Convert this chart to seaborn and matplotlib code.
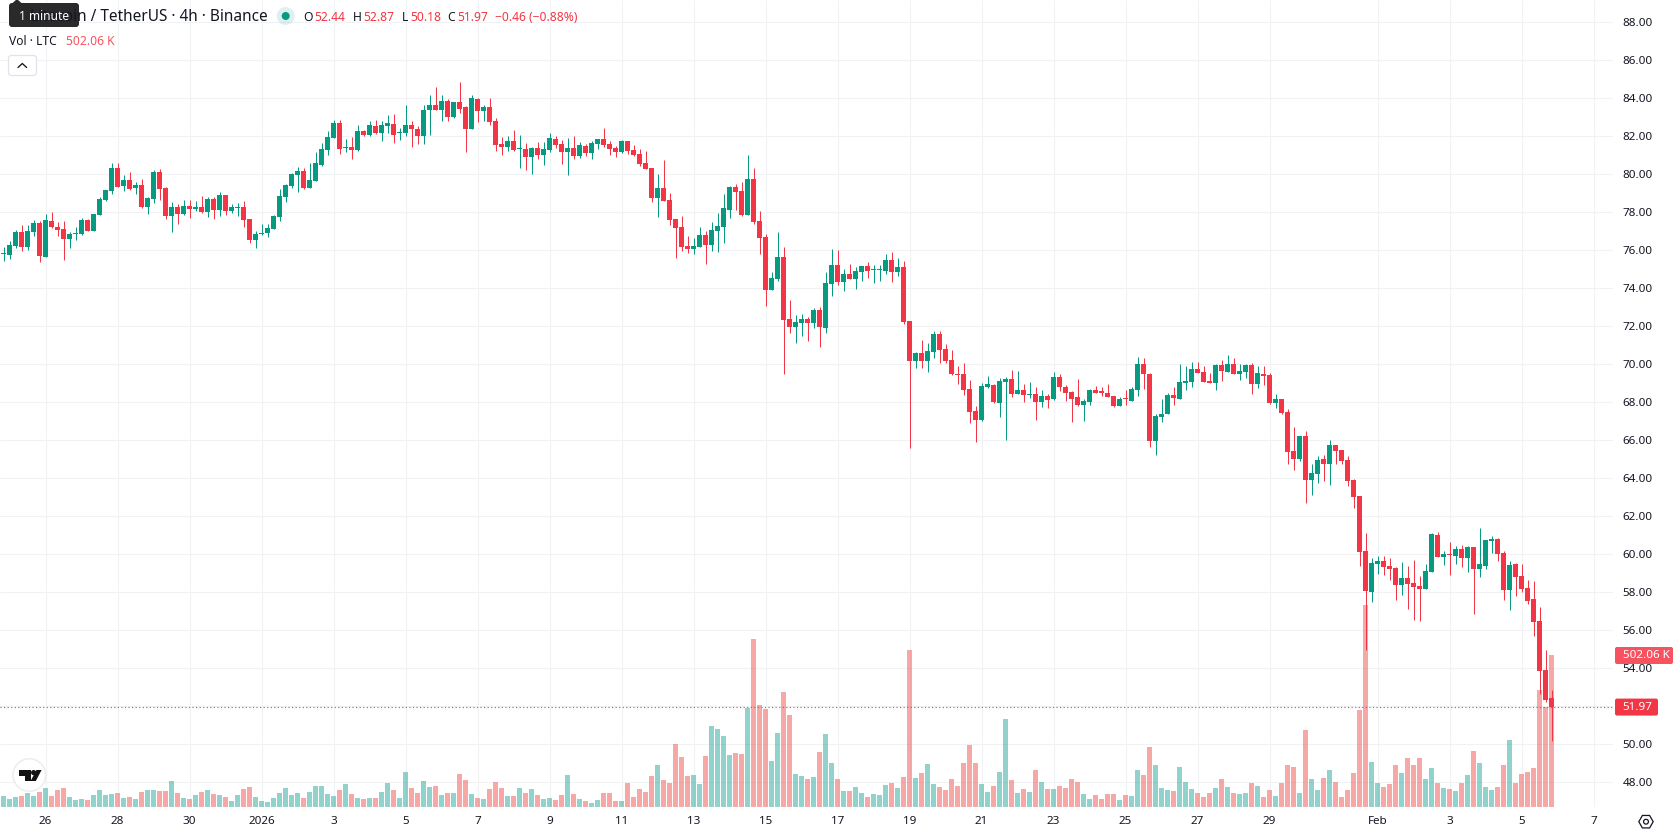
import numpy as np
import pandas as pd
import matplotlib
matplotlib.use("Agg")
import matplotlib.pyplot as plt
from matplotlib.patches import FancyBboxPatch, Circle, Polygon, RegularPolygon
import seaborn as sns

# LTC/USDT 4h candles, oldest first
opens = [
    75.79, 75.75, 76.23, 76.96, 76.18, 76.96, 77.44, 75.65, 77.54, 77.23,
    77.12, 76.60, 76.88, 76.86, 77.60, 77.02, 77.86, 78.65, 79.12, 80.33,
    79.39, 79.70, 79.28, 79.44, 78.28, 78.70, 80.12, 79.28, 77.81, 78.28,
    77.91, 78.33, 78.18, 78.28, 78.02, 78.70, 78.12, 78.91, 78.07, 78.25,
    78.28, 77.65, 76.54, 76.88, 76.91, 77.12, 77.75, 78.81, 79.39, 79.96,
    80.18, 79.28, 79.65, 80.49, 81.28, 81.91, 82.70, 81.41, 81.44, 81.28,
    82.28, 82.07, 82.54, 82.18, 82.54, 82.68, 82.16, 82.21, 82.63, 82.42,
    82.00, 83.37, 83.68, 83.42, 83.89, 83.05, 83.84, 83.53, 82.42, 83.95,
    83.32, 83.53, 82.79, 81.61, 81.46, 81.77, 81.32, 81.35, 80.93, 81.40,
    81.04, 81.30, 81.88, 81.61, 81.19, 81.40, 80.98, 81.51, 81.14, 81.61,
    81.88, 81.61, 81.40, 81.19, 81.77, 81.30, 81.09, 80.61, 80.35, 78.77,
    79.30, 78.67, 77.67, 77.25, 76.25, 76.09, 76.19, 76.82, 76.30, 77.04,
    77.25, 78.14, 79.35, 79.14, 77.88, 79.77, 77.56, 76.72, 73.93, 74.51,
    75.67, 72.40, 71.98, 72.19, 72.40, 72.19, 72.88, 71.93, 74.25, 75.25,
    74.35, 74.77, 74.51, 74.88, 75.19, 74.95, 74.95, 74.93, 75.51, 74.88,
    75.12, 72.28, 70.18, 70.60, 70.18, 70.65, 71.60, 70.81, 70.23, 69.48,
    69.49, 68.70, 67.54, 67.07, 68.81, 68.91, 67.96, 69.07, 69.23, 68.44,
    68.65, 68.41, 68.44, 68.02, 68.33, 68.18, 69.33, 68.81, 68.54, 68.28,
    67.86, 68.02, 68.65, 68.54, 68.49, 68.33, 67.81, 68.22, 68.07, 68.65,
    70.02, 69.49, 65.96, 67.23, 67.39, 68.39, 68.18, 69.02, 69.07, 69.75,
    69.60, 69.12, 69.02, 69.96, 69.60, 70.02, 69.49, 69.60, 69.96, 68.96,
    69.49, 69.44, 67.96, 68.18, 67.49, 65.44, 65.02, 66.23, 63.91, 64.23,
    65.02, 64.75, 65.75, 65.49, 64.96, 63.91, 63.07, 60.18, 58.02, 59.49,
    59.65, 59.39, 59.28, 58.39, 58.75, 58.49, 58.33, 58.18, 59.07, 61.02,
    59.86, 60.00, 59.91, 60.28, 59.81, 60.39, 59.23, 59.39, 60.70, 60.81,
    60.07, 58.12, 59.49, 58.86, 58.23, 57.65, 56.49, 53.91, 52.44,
]
highs = [
    76.18, 76.49, 77.07, 77.33, 77.33, 77.60, 77.54, 77.91, 78.02, 77.49,
    77.54, 76.96, 77.23, 77.70, 77.65, 77.91, 78.81, 79.18, 80.60, 80.60,
    79.96, 80.12, 79.60, 79.75, 78.81, 80.23, 80.28, 79.33, 78.54, 78.44,
    78.65, 78.65, 78.60, 78.86, 78.81, 78.81, 79.07, 78.91, 78.44, 78.49,
    78.60, 77.65, 77.00, 77.39, 77.39, 77.86, 79.23, 79.49, 80.07, 80.39,
    80.33, 80.60, 81.18, 81.65, 82.28, 82.86, 82.86, 81.86, 81.96, 82.60,
    82.33, 82.81, 82.86, 82.81, 83.12, 83.20, 82.47, 83.68, 82.79, 82.53,
    83.68, 84.16, 84.58, 84.16, 83.95, 83.84, 84.89, 83.63, 84.16, 84.00,
    83.68, 84.00, 82.95, 81.98, 82.04, 82.35, 82.09, 81.67, 81.46, 81.72,
    81.72, 82.19, 82.04, 81.82, 81.93, 82.04, 81.72, 81.61, 81.77, 81.88,
    82.46, 81.77, 81.51, 81.82, 81.77, 81.56, 81.35, 81.25, 80.35, 80.04,
    80.77, 79.04, 77.67, 77.82, 76.77, 76.67, 77.25, 77.04, 77.51, 77.98,
    78.98, 79.40, 79.51, 79.61, 81.04, 80.35, 78.09, 76.88, 74.88, 76.98,
    76.19, 73.40, 72.61, 72.67, 72.51, 72.98, 73.04, 74.88, 76.09, 76.04,
    75.04, 75.30, 75.14, 75.19, 75.40, 75.25, 75.25, 75.82, 75.93, 75.61,
    75.44, 72.28, 70.65, 71.28, 71.12, 71.75, 71.75, 71.07, 70.75, 69.91,
    70.07, 69.18, 67.81, 69.02, 69.39, 68.96, 69.28, 69.33, 69.70, 69.65,
    68.96, 69.07, 68.81, 68.65, 68.44, 69.60, 69.49, 68.91, 68.60, 69.23,
    68.18, 68.70, 68.86, 68.81, 68.96, 68.33, 68.28, 68.65, 68.81, 70.39,
    70.33, 69.54, 67.39, 68.18, 68.49, 68.81, 70.02, 69.91, 70.12, 70.12,
    69.91, 69.54, 70.02, 70.23, 70.49, 70.33, 70.02, 70.02, 70.07, 69.91,
    69.91, 69.54, 68.44, 68.18, 67.65, 66.70, 66.23, 66.49, 64.75, 65.18,
    65.23, 66.02, 65.75, 65.49, 65.18, 63.96, 63.07, 61.12, 59.81, 59.91,
    59.91, 59.81, 59.33, 59.60, 59.39, 59.70, 58.86, 59.49, 61.12, 61.18,
    60.18, 60.65, 60.44, 60.49, 60.44, 60.39, 61.39, 60.75, 60.96, 60.86,
    60.18, 59.65, 59.54, 59.49, 58.65, 58.60, 57.23, 54.96, 52.87,
]
lows = [
    75.44, 75.54, 76.12, 75.96, 76.02, 76.75, 75.39, 75.65, 77.18, 76.75,
    75.49, 76.12, 76.54, 76.81, 77.02, 77.02, 77.86, 78.60, 78.96, 79.33,
    79.12, 79.18, 78.96, 78.23, 77.91, 78.49, 78.65, 77.65, 76.96, 77.39,
    77.86, 77.70, 78.07, 77.96, 77.75, 77.65, 77.81, 77.86, 77.96, 77.81,
    77.23, 76.39, 76.12, 76.81, 76.70, 77.12, 77.54, 78.54, 79.28, 79.07,
    79.23, 79.28, 79.65, 80.44, 81.02, 81.91, 81.07, 81.18, 80.81, 81.23,
    82.02, 82.02, 82.12, 81.75, 82.18, 81.68, 81.79, 82.00, 81.47, 81.63,
    81.63, 82.10, 83.42, 82.84, 82.84, 82.95, 83.26, 81.16, 82.42, 82.74,
    82.84, 82.58, 81.26, 81.04, 81.25, 81.25, 80.35, 80.25, 80.04, 80.82,
    80.51, 81.19, 81.40, 80.56, 79.98, 80.82, 80.88, 80.98, 80.82, 81.35,
    81.46, 81.04, 80.93, 81.14, 81.09, 80.98, 80.46, 80.30, 78.56, 77.77,
    78.61, 77.35, 75.61, 75.98, 75.88, 75.82, 76.19, 75.30, 75.98, 75.93,
    76.40, 77.72, 78.14, 77.82, 77.88, 77.40, 75.82, 73.09, 73.93, 74.40,
    69.51, 71.67, 71.14, 71.51, 71.25, 71.93, 70.93, 71.67, 73.61, 74.19,
    73.88, 74.51, 73.98, 74.40, 74.56, 74.30, 74.40, 74.77, 74.35, 74.67,
    72.12, 65.60, 69.81, 69.81, 69.60, 70.33, 70.07, 70.07, 69.44, 68.96,
    68.39, 66.91, 65.91, 67.02, 68.75, 67.96, 67.23, 66.02, 68.28, 68.44,
    68.02, 68.23, 67.07, 67.75, 67.70, 68.12, 68.60, 68.07, 66.96, 67.81,
    67.02, 67.86, 68.49, 68.33, 68.28, 67.75, 67.81, 67.86, 68.07, 68.33,
    68.70, 65.65, 65.23, 66.96, 67.39, 67.86, 68.18, 68.65, 68.81, 69.54,
    69.07, 69.02, 68.65, 69.12, 69.60, 69.49, 69.18, 69.28, 68.44, 68.75,
    68.91, 67.91, 67.70, 67.39, 64.75, 64.44, 64.91, 62.70, 63.12, 63.75,
    63.86, 63.65, 64.75, 64.75, 63.60, 62.44, 59.39, 54.96, 57.49, 58.96,
    58.91, 58.65, 57.60, 57.86, 57.12, 56.54, 56.49, 58.18, 59.07, 59.86,
    59.44, 58.91, 59.49, 59.33, 59.07, 56.86, 58.81, 59.23, 60.07, 59.65,
    57.60, 57.07, 57.81, 58.02, 57.39, 55.70, 52.65, 52.23, 50.18,
]
closes = [
    75.81, 76.28, 76.96, 76.18, 77.02, 77.44, 75.70, 77.60, 77.23, 77.07,
    76.60, 76.86, 76.90, 77.60, 77.02, 77.91, 78.70, 79.18, 80.33, 79.33,
    79.70, 79.23, 79.44, 78.28, 78.75, 80.12, 79.23, 77.81, 78.28, 77.91,
    78.33, 78.18, 78.28, 78.02, 78.70, 78.12, 78.91, 78.07, 78.28, 78.27,
    77.60, 76.54, 76.86, 76.90, 77.18, 77.81, 78.86, 79.44, 80.02, 80.18,
    79.28, 79.70, 80.60, 81.33, 81.96, 82.70, 81.33, 81.43, 81.28, 82.28,
    82.07, 82.60, 82.18, 82.60, 82.70, 82.10, 82.26, 82.63, 82.37, 82.00,
    83.42, 83.68, 83.42, 83.89, 83.05, 83.84, 83.47, 82.42, 84.00, 83.32,
    83.53, 82.74, 81.53, 81.46, 81.77, 81.30, 81.34, 80.93, 81.40, 81.04,
    81.35, 81.93, 81.56, 81.19, 81.40, 80.98, 81.56, 81.14, 81.67, 81.88,
    81.56, 81.35, 81.19, 81.77, 81.25, 81.04, 80.56, 80.30, 78.77, 79.30,
    78.61, 77.61, 77.19, 76.19, 76.09, 76.25, 76.82, 76.30, 77.09, 77.30,
    78.25, 79.35, 79.09, 77.88, 79.77, 77.51, 76.67, 73.93, 74.56, 75.67,
    72.35, 71.98, 72.25, 72.40, 72.19, 72.88, 71.98, 74.30, 75.25, 74.35,
    74.77, 74.51, 74.93, 75.19, 74.93, 74.97, 74.97, 75.51, 74.88, 75.14,
    72.23, 70.18, 70.60, 70.18, 70.70, 71.60, 70.75, 70.18, 69.49, 69.46,
    68.65, 67.49, 67.07, 68.86, 68.96, 68.02, 69.12, 69.23, 68.44, 68.65,
    68.39, 68.43, 68.02, 68.33, 68.12, 69.33, 68.81, 68.49, 68.18, 67.86,
    68.07, 68.65, 68.49, 68.52, 68.28, 67.81, 68.18, 68.20, 68.70, 70.02,
    69.49, 65.96, 67.28, 67.39, 68.39, 68.23, 69.07, 69.12, 69.75, 69.54,
    69.07, 69.02, 69.96, 69.65, 70.02, 69.49, 69.65, 69.96, 68.96, 69.54,
    69.39, 67.96, 68.18, 67.44, 65.39, 65.02, 66.23, 63.91, 64.28, 64.96,
    64.75, 65.75, 65.44, 64.91, 63.86, 63.02, 60.12, 58.07, 59.54, 59.65,
    59.33, 59.23, 58.39, 58.75, 58.44, 58.28, 58.18, 59.12, 61.07, 59.86,
    60.02, 59.98, 60.28, 59.81, 60.39, 59.23, 59.49, 60.75, 60.81, 60.02,
    58.12, 59.44, 58.81, 58.18, 57.54, 56.44, 53.86, 52.33, 51.97,
]
# Traded volume per candle, thousands of LTC
volumes_k = [
    36.3, 26.4, 33.0, 36.3, 46.2, 36.3, 49.5, 62.8, 36.3, 56.2,
    62.8, 33.0, 23.1, 26.4, 23.1, 39.6, 56.2, 39.6, 42.9, 46.2,
    29.7, 33.0, 26.4, 49.5, 56.2, 56.2, 52.8, 52.8, 85.9, 46.2,
    29.7, 26.4, 39.6, 49.5, 56.2, 42.9, 39.6, 33.0, 19.8, 39.6,
    59.5, 66.1, 33.0, 19.8, 16.5, 29.7, 46.2, 62.8, 39.6, 46.2,
    29.7, 49.5, 69.4, 69.4, 42.9, 36.3, 56.2, 76.0, 42.9, 29.7,
    26.4, 29.7, 29.7, 49.5, 79.3, 56.2, 29.7, 115.6, 62.8, 46.2,
    85.9, 66.1, 69.4, 39.6, 46.2, 46.2, 109.0, 89.2, 42.9, 29.7,
    26.4, 59.5, 82.6, 62.8, 36.3, 36.3, 62.8, 46.2, 59.5, 39.6,
    26.4, 29.7, 23.1, 39.6, 105.7, 42.9, 26.4, 19.8, 13.2, 23.1,
    46.2, 46.2, 19.8, 19.8, 79.3, 33.0, 59.5, 49.5, 102.4, 138.7,
    89.2, 79.3, 208.1, 165.2, 102.4, 105.7, 76.0, 168.5, 267.5, 257.6,
    234.5, 171.8, 178.4, 175.1, 327.0, 554.9, 336.9, 323.7, 151.9, 244.4,
    379.8, 303.9, 109.0, 102.4, 92.5, 99.1, 181.7, 241.1, 145.3, 92.5,
    52.8, 52.8, 66.1, 46.2, 33.0, 42.9, 39.6, 72.7, 79.3, 62.8,
    99.1, 518.6, 95.8, 112.3, 142.0, 76.0, 66.1, 56.2, 92.5, 69.4,
    145.3, 204.8, 145.3, 76.0, 49.5, 69.4, 115.6, 290.7, 89.2, 46.2,
    59.5, 49.5, 122.2, 82.6, 59.5, 59.5, 69.4, 62.8, 92.5, 82.6,
    42.9, 26.4, 39.6, 26.4, 42.9, 42.9, 23.1, 39.6, 36.3, 122.2,
    105.7, 198.2, 138.7, 62.8, 56.2, 52.8, 132.1, 82.6, 59.5, 46.2,
    33.0, 46.2, 62.8, 92.5, 66.1, 46.2, 42.9, 46.2, 79.3, 69.4,
    33.0, 56.2, 36.3, 79.3, 138.7, 132.1, 46.2, 254.3, 92.5, 56.2,
    95.8, 122.2, 82.6, 33.0, 56.2, 112.3, 320.4, 667.2, 148.6, 79.3,
    66.1, 76.0, 138.7, 112.3, 161.8, 138.7, 161.8, 92.5, 128.8, 79.3,
    62.8, 59.5, 52.8, 79.3, 105.7, 185.0, 145.3, 66.1, 56.2, 66.1,
    138.7, 221.3, 79.3, 109.0, 115.6, 128.8, 386.5, 330.3, 502.06,
]

date_ticks = [7, 19, 31, 43, 55, 67, 79, 91, 103, 115, 127, 139, 151, 163, 175,
              187, 199, 211, 229, 241, 253, 265]
date_labels = ["26", "28", "30", "2026", "3", "5", "7", "9", "11", "13", "15",
               "17", "19", "21", "23", "25", "27", "29", "Feb", "3", "5", "7"]
price_ticks = list(range(48, 90, 2))

UP = "#089981"
DOWN = "#F23645"
VOL_UP = "#26A69A"
VOL_DOWN = "#EF5350"
GRID = "#F1F2F4"
INK = "#131722"

sns.set_theme(style="white")
plt.rcParams["font.family"] = ["Noto Sans", "DejaVu Sans"]

candles = pd.DataFrame({"open": opens, "high": highs, "low": lows, "close": closes,
                        "volume": volumes_k})
candles["bar"] = np.arange(len(candles))
candles["side"] = np.where(candles["close"] >= candles["open"], "up", "down")
candles["body"] = (candles["close"] - candles["open"]).abs().clip(lower=0.06)
candles["base"] = candles[["open", "close"]].min(axis=1)

W, H = 1678, 835
PLOT_W, PLOT_H = 1613, 807
PX_PER_BAR = 6
PX_PER_UNIT = 19
K_PER_PX = 3.303

fig = plt.figure(figsize=(W / 100, H / 100), dpi=100, facecolor="white")
ax = fig.add_axes([0, (H - PLOT_H) / H, PLOT_W / W, PLOT_H / H])
axv = ax.twinx()
axc = ax.twinx()
ax.set_zorder(1)
axv.set_zorder(2)
axc.set_zorder(3)
axv.patch.set_visible(False)
axc.patch.set_visible(False)

xlim = (-3.5 / PX_PER_BAR, (PLOT_W - 3.5) / PX_PER_BAR)
ylim = (86 - (PLOT_H - 60.5) / PX_PER_UNIT, 86 + 60.5 / PX_PER_UNIT)

# Volume histogram in its own pane scale, behind the candles
sns.barplot(data=candles, x="bar", y="volume", hue="side",
            palette={"up": VOL_UP, "down": VOL_DOWN}, native_scale=True, dodge=False,
            width=5 / 6, saturation=1, alpha=0.5, linewidth=0, errorbar=None,
            legend=False, ax=axv)

# Candles: wick first, body on top
wick_colors = candles["side"].map({"up": UP, "down": DOWN})
axc.vlines(candles["bar"], candles["low"], candles["high"], colors=wick_colors, lw=0.72)
axc.bar(candles["bar"], candles["body"], bottom=candles["base"], width=5 / 6,
        color=wick_colors, linewidth=0)
axc.axhline(closes[-1], color=DOWN, lw=0.8, ls=(0, (1, 2.2)))

for a in (ax, axv, axc):
    a.set_xlim(*xlim)
    a.set_xlabel("")
    a.set_ylabel("")
    for s in a.spines.values():
        s.set_visible(False)
ax.set_ylim(*ylim)
axc.set_ylim(*ylim)
axv.set_ylim(0, PLOT_H * K_PER_PX)
axv.set_yticks([])
axc.set_yticks([])
axv.set_xticks([])
axc.set_xticks([])

ax.set_xticks(date_ticks, date_labels)
ax.set_yticks(price_ticks, [f"{p:.2f}" for p in price_ticks])
ax.yaxis.tick_right()
ax.grid(True, color=GRID, lw=0.75)
ax.set_axisbelow(True)
ax.tick_params(axis="x", length=0, pad=6.5, labelsize=8.4, labelcolor=INK)
ax.tick_params(axis="y", length=0, pad=6.8, labelsize=8.4, labelcolor=INK,
               right=False, labelright=True, left=False, labelleft=False)
for lab in ax.get_xticklabels():
    if lab.get_text() == "2026":
        lab.set_fontweight("bold")

# Overlay in pixel units for the legend, value tags and chart furniture
ov = fig.add_axes([0, 0, 1, 1], zorder=10)
ov.set_xlim(0, W)
ov.set_ylim(H, 0)
ov.axis("off")
ov.patch.set_visible(False)


def label(x, y, s, color=INK, size=8.7, ha="left", **kw):
    ov.text(x, y, s, color=color, fontsize=size, ha=ha, va="center", **kw)


def tag(x0, x1, y, color, s):
    ov.add_patch(FancyBboxPatch((x0, y - 8.5), x1 - x0, 17,
                                boxstyle="round,pad=0,rounding_size=2",
                                fc=color, ec="none"))
    label(1622.7, y, s, color="white", size=8.4)


def price_y(value):
    return 60.5 + (86 - value) * PX_PER_UNIT


def volume_y(value):
    return PLOT_H - value / K_PER_PX


tag(1615, 1658, price_y(closes[-1]), DOWN, f"{closes[-1]:.2f}")
tag(1615, 1673, volume_y(volumes_k[-1]) + 0.5, "#F7525F", f"{volumes_k[-1]:.2f} K")

# Symbol line
label(268, 17, "Litecoin / TetherUS · 4h · Binance", size=11.1, ha="right")
ov.add_patch(Circle((285.7, 16), 9, fc=UP, ec="none", alpha=0.13))
ov.add_patch(Circle((285.7, 16), 4, fc=UP, ec="none"))
ohlc_line = [(303.3, "O", INK), (314.3, f"{opens[-1]:.2f}", DOWN),
             (353, "H", INK), (363.3, f"{highs[-1]:.2f}", DOWN),
             (401.7, "L", INK), (410, f"{lows[-1]:.2f}", DOWN),
             (447.7, "C", INK), (457.3, f"{closes[-1]:.2f}", DOWN),
             (495.3, "−0.46 (−0.88%)", DOWN)]
for x, s, c in ohlc_line:
    label(x, 17.5, s, color=c)

# Volume line and collapse button
label(9, 41.5, "Vol · LTC")
label(66, 41.5, "502.06 K", color="#F7525F")
ov.add_patch(FancyBboxPatch((8.5, 55.5), 28, 20, boxstyle="round,pad=0,rounding_size=3",
                            fc="white", ec="#E0E3EB", lw=0.9))
ov.plot([18, 22.3, 26.6], [67.5, 63.5, 67.5], color=INK, lw=0.95)

# "1 minute" tooltip sits over the start of the symbol line
ov.add_patch(FancyBboxPatch((9, 3), 70, 24, boxstyle="round,pad=0,rounding_size=3",
                            fc="#2A2A2A", ec="none"))
ov.add_patch(Polygon([(12, 3.5), (17, -1), (22, 3.5)], fc="#2A2A2A", ec="none"))
label(44, 16, "1 minute", color="white", size=8.6, ha="center")

# Watermark badge
ov.add_patch(Circle((29.3, 775), 16.3, fc="white", ec="#EBEDF0", lw=1.1))
ov.add_patch(Polygon([(19, 770), (31, 770), (31, 781), (25, 781), (25, 775.5), (19, 775.5)],
                     fc="#131313", ec="none"))
ov.add_patch(Circle((33.6, 772.6), 2.6, fc="#131313", ec="none"))
ov.add_patch(Polygon([(36.4, 770), (41.6, 770), (35.8, 781), (30.6, 781)],
                     fc="#131313", ec="none"))

# Chart settings icon
ov.add_patch(RegularPolygon((1646, 821.7), 6, radius=7.2, orientation=np.pi / 6,
                            fc="none", ec=INK, lw=0.9))
ov.add_patch(Circle((1646, 821.7), 2.4, fc="none", ec=INK, lw=0.9))

fig.savefig("out.png", dpi=100, facecolor="white")
